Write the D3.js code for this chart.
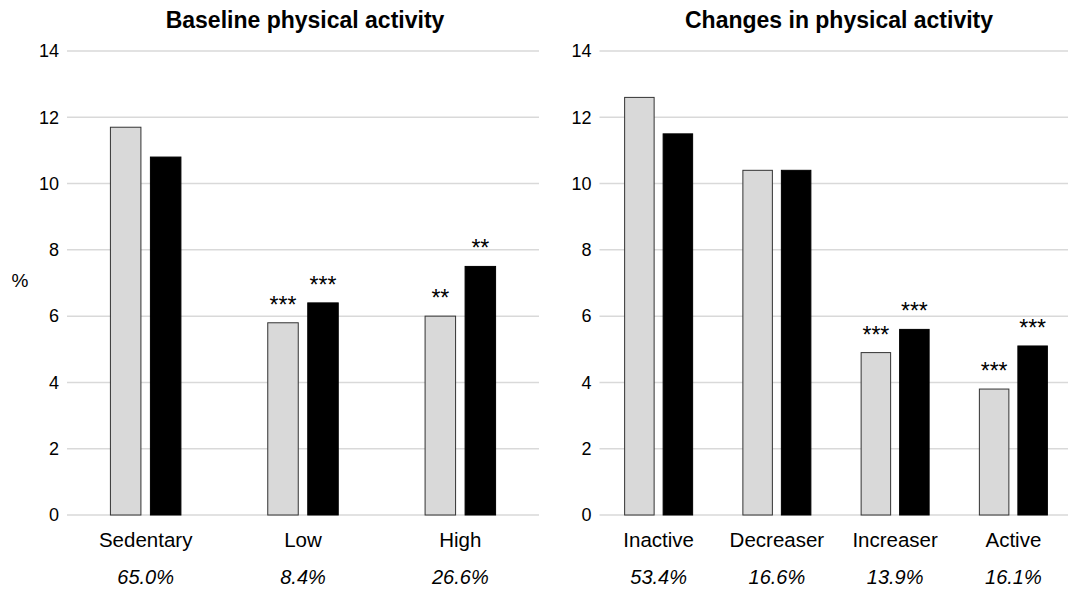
<!DOCTYPE html>
<html><head><meta charset="utf-8">
<script src="https://cdn.jsdelivr.net/npm/d3@7"></script>
<style>body{margin:0;background:#fff;} svg{display:block;font-family:"Liberation Sans",Arial,sans-serif;}</style>
</head><body><svg id="c" width="1068" height="591"></svg>
<script>
const leftCategories = ["Sedentary","Low","High"];
const leftShares = ["65.0%","8.4%","26.6%"];
const leftLight = [11.7, 5.8, 6.0];
const leftDark = [10.8, 6.4, 7.5];
const leftLightSig = ["", "***", "**"];
const leftDarkSig = ["", "***", "**"];

const rightCategories = ["Inactive","Decreaser","Increaser","Active"];
const rightShares = ["53.4%","16.6%","13.9%","16.1%"];
const rightLight = [12.6, 10.4, 4.9, 3.8];
const rightDark = [11.5, 10.4, 5.6, 5.1];
const rightLightSig = ["", "", "***", "***"];
const rightDarkSig = ["", "", "***", "***"];

const yTicks = [0,2,4,6,8,10,12,14];
const titles = ["Baseline physical activity","Changes in physical activity"];

const svg = d3.select("#c");
const y = d3.scaleLinear().domain([0,14]).range([515,51]);

function panel(cfg){
  const g = svg.append("g");
  const x = d3.scaleBand().domain(cfg.cats).range([cfg.x0,cfg.x1]);
  g.selectAll("line.grid").data(yTicks).join("line")
    .attr("x1",cfg.x0).attr("x2",cfg.x1)
    .attr("y1",d=>y(d)).attr("y2",d=>y(d))
    .attr("stroke","#d9d9d9").attr("stroke-width",1.5);
  g.selectAll("text.yt").data(yTicks).join("text")
    .attr("x",cfg.x0-8).attr("y",d=>y(d)).attr("dy","0.35em")
    .attr("text-anchor","end").attr("font-size",18).attr("fill","#000")
    .text(d=>d);
  const bw = cfg.bw, gap = cfg.gap;
  const data = cfg.cats.map((c,i)=>({c,l:cfg.light[i],d:cfg.dark[i],ls:cfg.lsig[i],ds:cfg.dsig[i],s:cfg.shares[i]}));
  const cx = d=>x(d.c)+x.bandwidth()/2;
  g.selectAll("rect.l").data(data).join("rect")
    .attr("x",d=>cx(d)-gap/2-bw).attr("width",bw)
    .attr("y",d=>y(d.l)).attr("height",d=>y(0)-y(d.l))
    .attr("fill","#d9d9d9").attr("stroke","#333").attr("stroke-width",1);
  g.selectAll("rect.d").data(data).join("rect")
    .attr("x",d=>cx(d)+gap/2).attr("width",bw)
    .attr("y",d=>y(d.d)).attr("height",d=>y(0)-y(d.d))
    .attr("fill","#000").attr("stroke","#000").attr("stroke-width",1);
  g.selectAll("text.ls").data(data).join("text")
    .attr("x",d=>cx(d)-gap/2-bw/2).attr("y",d=>y(d.l)-10)
    .attr("text-anchor","middle").attr("font-size",23).text(d=>d.ls);
  g.selectAll("text.ds").data(data).join("text")
    .attr("x",d=>cx(d)+gap/2+bw/2).attr("y",d=>y(d.d)-10)
    .attr("text-anchor","middle").attr("font-size",23).text(d=>d.ds);
  g.selectAll("text.cat").data(data).join("text")
    .attr("x",cx).attr("y",547).attr("text-anchor","middle")
    .attr("font-size",20.5).text(d=>d.c);
  g.selectAll("text.sh").data(data).join("text")
    .attr("x",cx).attr("y",584).attr("text-anchor","middle")
    .attr("font-size",20).attr("font-style","italic").text(d=>d.s);
  g.append("text").attr("x",cfg.tx).attr("y",28).attr("text-anchor","middle")
    .attr("font-size",23).attr("font-weight","bold").text(cfg.title);
}

panel({cats:leftCategories,shares:leftShares,light:leftLight,dark:leftDark,lsig:leftLightSig,dsig:leftDarkSig,
  x0:67,x1:539,bw:30.5,gap:9.5,tx:305,title:titles[0]});
panel({cats:rightCategories,shares:rightShares,light:rightLight,dark:rightDark,lsig:rightLightSig,dsig:rightDarkSig,
  x0:599.5,x1:1072.5,bw:29.5,gap:9,tx:839,title:titles[1]});

svg.append("text").attr("x",20).attr("y",280).attr("dy","0.35em").attr("text-anchor","middle")
  .attr("font-size",19).text("%");
</script></body></html>
